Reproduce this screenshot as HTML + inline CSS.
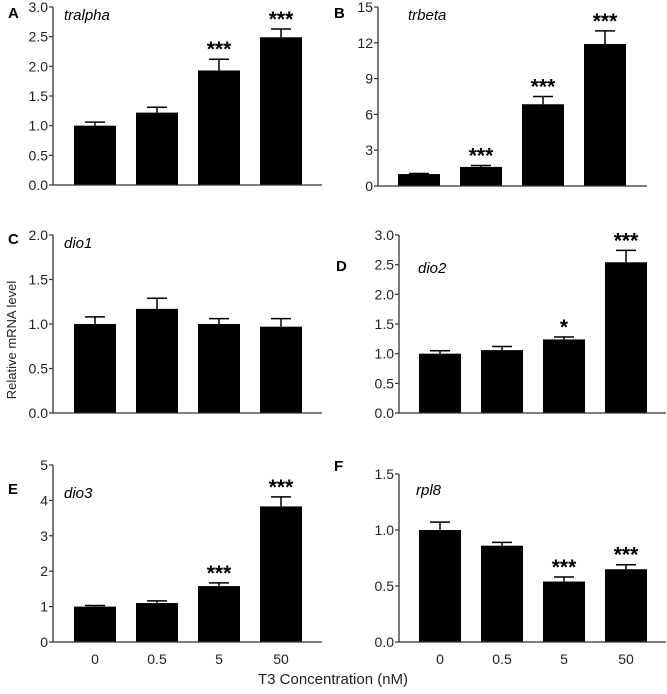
<!DOCTYPE html>
<html><head><meta charset="utf-8"><style>
body{margin:0;background:#fff;}
svg text{font-family:"Liberation Sans",Arial,sans-serif;}
</style></head><body>
<svg id="chart" width="667" height="689" xmlns="http://www.w3.org/2000/svg"></svg>
<script>
const categories=["0","0.5","5","50"];
const valsA=[1.0,1.22,1.93,2.49], errA=[0.06,0.09,0.19,0.14], starsA=["","","***","***"];
const valsB=[1.0,1.6,6.85,11.9], errB=[0.05,0.12,0.65,1.1], starsB=["","***","***","***"];
const valsC=[1.0,1.17,1.0,0.97], errC=[0.08,0.12,0.06,0.09], starsC=["","","",""];
const valsD=[1.0,1.06,1.24,2.54], errD=[0.05,0.06,0.04,0.2], starsD=["","","*","***"];
const valsE=[1.0,1.1,1.58,3.83], errE=[0.03,0.06,0.09,0.27], starsE=["","","***","***"];
const valsF=[1.0,0.86,0.54,0.65], errF=[0.07,0.03,0.04,0.04], starsF=["","","***","***"];
const ticksA=["0.0","0.5","1.0","1.5","2.0","2.5","3.0"];
const ticksB=["0","3","6","9","12","15"];
const ticksC=["0.0","0.5","1.0","1.5","2.0"];
const ticksD=["0.0","0.5","1.0","1.5","2.0","2.5","3.0"];
const ticksE=["0","1","2","3","4","5"];
const ticksF=["0.0","0.5","1.0","1.5"];

const svg=document.getElementById('chart');
const NS='http://www.w3.org/2000/svg';
function mk(tag,attrs,parent){const e=document.createElementNS(NS,tag);for(const k in attrs)e.setAttribute(k,attrs[k]);(parent||svg).appendChild(e);return e;}

const panels=[
 {id:'a',letter:'A',gene:'tralpha',vals:valsA,err:errA,stars:starsA,ticks:ticksA,ax:53,bx:74,xend:322,top:7,bot:185,lx:8,ly:18,gx:64,gy:20},
 {id:'b',letter:'B',gene:'trbeta',vals:valsB,err:errB,stars:starsB,ticks:ticksB,ax:378,bx:398,xend:647,top:7,bot:186,lx:334,ly:18,gx:408,gy:20},
 {id:'c',letter:'C',gene:'dio1',vals:valsC,err:errC,stars:starsC,ticks:ticksC,ax:53,bx:74,xend:322,top:235,bot:413,lx:8,ly:244,gx:64,gy:248},
 {id:'d',letter:'D',gene:'dio2',vals:valsD,err:errD,stars:starsD,ticks:ticksD,ax:399,bx:419,xend:666,top:235,bot:413,lx:336,ly:271,gx:418,gy:273},
 {id:'e',letter:'E',gene:'dio3',vals:valsE,err:errE,stars:starsE,ticks:ticksE,ax:53,bx:74,xend:322,top:465,bot:642,lx:8,ly:494,gx:64,gy:498},
 {id:'f',letter:'F',gene:'rpl8',vals:valsF,err:errF,stars:starsF,ticks:ticksF,ax:399,bx:419,xend:666,top:474,bot:642,lx:334,ly:471,gx:416,gy:495},
];
panels.forEach(p=>{
 const g=mk('g',{});
 
 
 const tmax=parseFloat(p.ticks[p.ticks.length-1]);
 const y=v=>p.bot-(v/tmax)*(p.bot-p.top);
 const x=i=>p.bx+i*62;
 const bw=42;
 p.vals.forEach((v,i)=>{
  const r=mk('rect',{x:x(i),y:y(v),width:bw,height:p.bot-y(v),fill:'#000'},g);
  
  
  const cx=x(i)+bw/2, ye=y(v+p.err[i]);
  const e=mk('path',{d:`M${cx},${y(v)}V${ye}M${cx-10},${ye}H${cx+10}`,stroke:'#000','stroke-width':1.5,fill:'none'},g);
  
  
  if(p.stars[i]){
   const s=mk('text',{x:cx,y:ye-3,'text-anchor':'middle','font-size':21,'font-weight':'bold'},g);
   s.textContent=p.stars[i];
   
   
  }
 });
 const ax=mk('path',{d:`M${p.ax},${p.top}V${p.bot}H${p.xend}`,stroke:'#333','stroke-width':1.3,fill:'none'},g);
 
 
 p.ticks.forEach(t=>{
  const ty=y(parseFloat(t));
  mk('line',{x1:p.ax-4,x2:p.ax,y1:ty,y2:ty,stroke:'#333','stroke-width':1.2},g);
  const tl=mk('text',{x:p.ax-5,y:ty+5,'text-anchor':'end','font-size':14,fill:'#222'},g);
  tl.textContent=t;
  
  
 });
 const L=mk('text',{x:p.lx,y:p.ly,'font-size':15,'font-weight':'bold'},g);
 L.textContent=p.letter;
 
 
 const G=mk('text',{x:p.gx,y:p.gy,'font-size':15,'font-style':'italic'},g);
 G.textContent=p.gene;
 
 
 if(p.id==='e'||p.id==='f'){
  categories.forEach((c,i)=>{
   const t=mk('text',{x:x(i)+bw/2,y:664,'text-anchor':'middle','font-size':14,fill:'#222'},g);
   t.textContent=c;
   
   
  });
 }
});
const yt=mk('text',{x:0,y:0,transform:'translate(16,340) rotate(-90)','text-anchor':'middle','font-size':13,fill:'#222'});
yt.textContent='Relative mRNA level';


const xt=mk('text',{x:333,y:684,'text-anchor':'middle','font-size':15,fill:'#222'});
xt.textContent='T3 Concentration (nM)';


</script>
</body></html>
